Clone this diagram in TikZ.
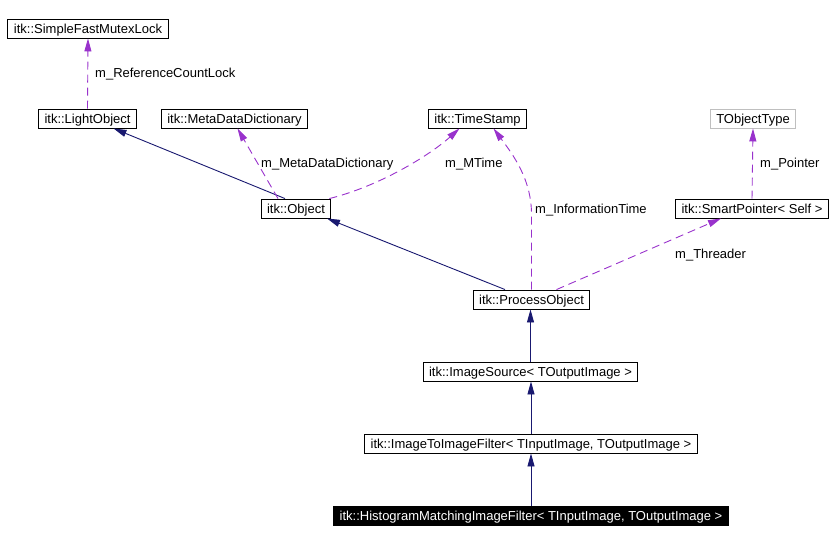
\documentclass[tikz,border=0pt]{standalone}
\usepackage{fontspec}
\setmainfont{Liberation Sans}
\usetikzlibrary{arrows.meta,positioning,calc}
\definecolor{navyline}{RGB}{25,25,112}
\definecolor{orchid}{RGB}{153,50,204}
\definecolor{lightframe}{RGB}{191,191,191}

\begin{document}
\begin{tikzpicture}[x=1pt, y=-1pt,
  cls/.style={draw, line width=0.9pt, font=\fontsize{13}{15}\selectfont,
    inner xsep=6pt, inner ysep=0pt, minimum height=19pt,
    text height=10pt, text depth=0pt},
  lbl/.style={font=\fontsize{13}{15}\selectfont, inner sep=0pt, anchor=west,
    text height=10pt, text depth=0pt},
  base/.style={-{Triangle[length=13pt,width=7pt]}, line width=0.9pt, draw=navyline},
  member/.style={-{Triangle[length=13pt,width=7pt]}, line width=0.9pt, draw=orchid,
    dash pattern=on 8pt off 5pt}
]
\useasboundingbox (0,0) rectangle (834,542);

\node[cls] (mutex) at (88,28.5) {itk::SimpleFastMutexLock};
\node[cls] (light) at (87.5,118.5) {itk::LightObject};
\node[cls] (dict) at (234.5,118.5) {itk::MetaDataDictionary};
\node[cls] (stamp) at (477.5,118.5) {itk::TimeStamp};
\node[cls, draw=lightframe] (otype) at (753,118.5) {TObjectType};
\node[cls] (obj) at (296,208.5) {itk::Object};
\node[cls] (smart) at (752,208.5) {itk::SmartPointer< Self >};
\node[cls] (proc) at (531.5,299.5) {itk::ProcessObject};
\node[cls] (src) at (530.5,371.5) {itk::ImageSource< TOutputImage >};
\node[cls] (i2i) at (531,443.5) {itk::ImageToImageFilter< TInputImage, TOutputImage >};
\node[cls, fill=black, text=white] (hist) at (531,515.5)
  {itk::HistogramMatchingImageFilter< TInputImage, TOutputImage >};

\node[lbl] (lref) at (95,72) {m\_ReferenceCountLock};
\node[lbl] (ldict) at (261,162) {m\_MetaDataDictionary};
\node[lbl] (lmtime) at (445,162) {m\_MTime};
\node[lbl] (linfo) at (535,208.5) {m\_InformationTime};
\node[lbl] (lptr) at (760,162.5) {m\_Pointer};
\node[lbl] (lthr) at (675,253.5) {m\_Threader};

\draw[member] (light.north) -- (mutex.south);
\draw[base] ([xshift=-11pt]obj.north) -- ([xshift=26pt]light.south);
\draw[member] ([xshift=-18pt]obj.north) -- ([xshift=3pt]dict.south);
\draw[member] ([xshift=-2pt]obj.north east) .. controls (380,186) and (430,155)
  .. ([xshift=-18pt]stamp.south);
\draw[member] (proc.north) -- ([yshift=75pt]proc.north)
  .. controls ([yshift=110pt]proc.north) and ([xshift=36pt,yshift=-27pt]stamp.south)
  .. ([xshift=16pt]stamp.south);
\draw[base] ([xshift=-26.5pt]proc.north) -- ([xshift=31pt]obj.south);
\draw[member] ([xshift=25pt]proc.north) -- ([xshift=-31pt]smart.south);
\draw[member] (smart.north) -- (otype.south);
\draw[base] (src.north) -- (src.north |- proc.south);
\draw[base] (i2i.north) -- (i2i.north |- src.south);
\draw[base] (hist.north) -- (hist.north |- i2i.south);
\end{tikzpicture}
\end{document}
